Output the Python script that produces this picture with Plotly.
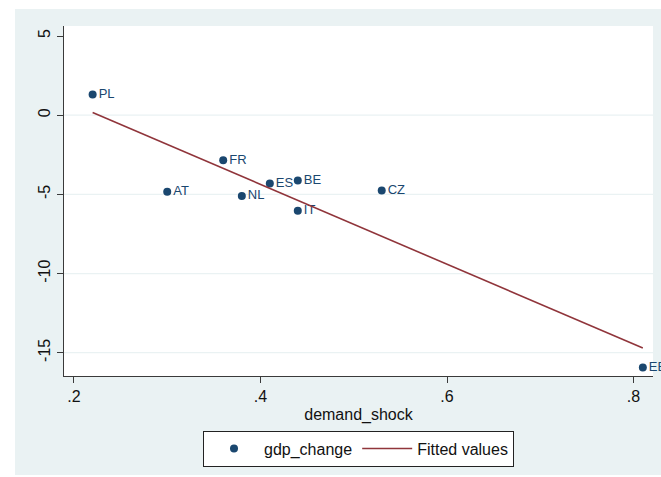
import numpy as np
import plotly.graph_objects as go

countries = ["PL", "AT", "FR", "NL", "ES", "BE", "IT", "CZ", "EE"]
demand_shock = [0.22, 0.30, 0.36, 0.38, 0.41, 0.44, 0.44, 0.53, 0.81]
gdp_change = [1.3, -4.83, -2.85, -5.1, -4.32, -4.13, -6.03, -4.75, -15.93]

x_ticks = [0.2, 0.4, 0.6, 0.8]
x_ticktext = [".2", ".4", ".6", ".8"]
y_ticks = [-15, -10, -5, 0, 5]
y_ticktext = ["-15", "-10", "-5", "0", "5"]
y_grid = [-15, -10, -5, 0]

NAVY = "#1a476f"
MAROON = "#90353b"
BG = "#eaf2f3"
AXC = "#3a3a3a"
FONT = "Liberation Sans, Arial, sans-serif"

# OLS fitted values
slope, intercept = np.polyfit(demand_shock, gdp_change, 1)
fit_x = [min(demand_shock), max(demand_shock)]
fit_y = [intercept + slope * v for v in fit_x]

fig = go.Figure()
fig.add_trace(go.Scatter(
    x=demand_shock, y=gdp_change, mode="markers+text", text=countries,
    textposition="middle right", textfont=dict(size=13, color=NAVY, family=FONT),
    marker=dict(color=NAVY, size=8), name="gdp_change", cliponaxis=False,
))
fig.add_trace(go.Scatter(
    x=fit_x, y=fit_y, mode="lines", line=dict(color=MAROON, width=1.6),
    name="Fitted values",
))

shapes = [
    dict(type="rect", xref="paper", yref="paper", x0=-0.0832, x1=1.02, y0=-0.283, y1=1.0486,
         fillcolor=BG, line=dict(width=0), layer="below"),
    dict(type="rect", xref="paper", yref="paper", x0=0, x1=1, y0=0, y1=1,
         fillcolor="white", line=dict(width=0), layer="below"),
]
for v in y_grid:
    shapes.append(dict(type="line", xref="paper", yref="y", x0=0, x1=1, y0=v, y1=v,
                       line=dict(color=BG, width=1.2), layer="below"))

fig.update_layout(
    width=661, height=477, autosize=False,
    margin=dict(l=64, r=8, t=26, b=101, autoexpand=False),
    paper_bgcolor="white", plot_bgcolor="white",
    font=dict(family=FONT, size=16, color="#111"),
    shapes=shapes,
    showlegend=True,
    legend=dict(orientation="h", x=0.5, xanchor="center", y=-0.156, yanchor="top",
                bgcolor="white", bordercolor="#222", borderwidth=1,
                font=dict(size=16, family=FONT, color="#111"), itemwidth=50,
                traceorder="normal"),
    xaxis=dict(range=[0.1893, 0.8209], tickmode="array", tickvals=x_ticks, ticktext=x_ticktext,
               showgrid=False, zeroline=False, showline=True, linecolor=AXC, linewidth=1.3,
               ticks="outside", ticklen=6, tickcolor=AXC, tickwidth=1, automargin=False,
               tickfont=dict(size=16, family=FONT, color="#111"),
               title=dict(text="demand_shock", font=dict(size=16, family=FONT, color="#111"), standoff=4)),
    yaxis=dict(range=[-16.47, 5.633], tickmode="array", tickvals=y_ticks, ticktext=y_ticktext,
               showgrid=False, zeroline=False, showline=True, linecolor=AXC, linewidth=1.3,
               ticks="outside", ticklen=6, tickcolor=AXC, tickwidth=1, tickangle=-90,
               automargin=False, tickfont=dict(size=16, family=FONT, color="#111")),
)

fig.write_html("out.html", config={"displayModeBar": False},
               post_script="document.body.style.margin='0';document.body.style.padding='0';document.body.style.overflow='hidden';")
